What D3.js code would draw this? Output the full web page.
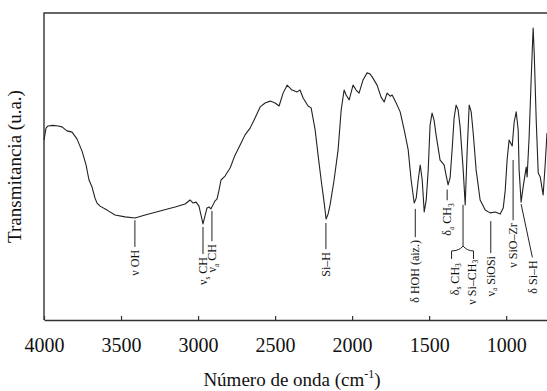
<!DOCTYPE html>
<html>
<head>
<meta charset="utf-8">
<script src="https://cdn.jsdelivr.net/npm/d3@7"></script>
<style>
  body { margin: 0; background: #fff; }
  svg { display: block; font-family: "Liberation Serif", "Times New Roman", serif; }
</style>
</head>
<body>
<div id="chart"></div>
<script>
// spectrum, wavenumber (cm-1) and transmittance (u.a.)
const wavenumber = [4000, 3987, 3974, 3942, 3909, 3883, 3851, 3818, 3786, 3753, 3727, 3708, 3688, 3669, 3656, 3636,
  3591, 3539, 3474, 3409, 3344, 3247, 3149, 3084, 3052, 3032, 3013, 2994, 2981, 2968, 2955, 2942, 2929, 2916, 2903,
  2890, 2877, 2864, 2851, 2825, 2792, 2760, 2727, 2695, 2662, 2630, 2597, 2565, 2532, 2500, 2474, 2448, 2422, 2390,
  2357, 2338, 2318, 2286, 2266, 2240, 2221, 2201, 2182, 2169, 2156, 2143, 2117, 2091, 2071, 2052, 2039, 2019, 1994,
  1974, 1955, 1929, 1903, 1883, 1870, 1838, 1812, 1792, 1773, 1753, 1740, 1714, 1688, 1662, 1636, 1617, 1597, 1584,
  1571, 1558, 1545, 1532, 1519, 1506, 1494, 1481, 1468, 1455, 1429, 1403, 1390, 1377, 1364, 1351, 1338, 1325, 1312,
  1299, 1279, 1266, 1253, 1240, 1227, 1214, 1195, 1169, 1136, 1104, 1071, 1039, 1019, 1006, 994, 981, 961, 948, 935,
  922, 916, 903, 890, 870, 864, 851, 838, 825, 818, 805, 792, 779, 760, 747, 735];
const transmittance = [58.6, 62.5, 63.2, 63.4, 63.2, 62.9, 61.6, 61.2, 59.0, 55.0, 50.5, 45.6, 43.3, 39.7, 38.1, 37.1,
  35.8, 34.2, 33.6, 33.2, 34.2, 35.5, 36.8, 37.8, 39.1, 38.1, 38.4, 37.1, 34.2, 31.3, 33.9, 36.5, 36.8, 36.2, 37.5,
  38.8, 39.4, 42.3, 45.6, 46.9, 49.5, 53.7, 57.0, 60.3, 62.5, 65.8, 69.4, 70.7, 71.3, 70.7, 69.7, 73.9, 76.5, 74.9,
  74.3, 74.9, 72.3, 69.7, 69.1, 61.9, 53.7, 45.6, 38.4, 32.9, 34.5, 37.5, 45.6, 55.4, 68.4, 74.9, 73.3, 71.7, 76.5,
  74.9, 73.9, 78.2, 80.5, 80.1, 79.2, 76.5, 72.6, 71.0, 73.9, 72.9, 73.3, 70.7, 67.8, 61.9, 55.4, 45.6, 38.1, 39.7,
  45.6, 50.5, 45.6, 35.2, 39.1, 48.9, 63.5, 67.4, 65.1, 60.3, 52.1, 50.5, 47.2, 44.0, 46.3, 55.4, 65.8, 70.0, 68.4,
  62.9, 48.9, 37.5, 55.4, 70.0, 67.8, 60.9, 48.9, 39.1, 35.8, 34.9, 35.2, 34.5, 36.5, 42.3, 52.1, 58.6, 56.7, 64.5, 67.8,
  61.9, 48.9, 38.4, 43.3, 49.8, 46.6, 59.6, 78.2, 95.1, 87.0, 65.1, 47.9, 46.6, 40.7, 50.5, 60.9];

const xTicks = [4000, 3500, 3000, 2500, 2000, 1500, 1000];

// band assignments: label, wavenumber of the marker, T where marker starts, T where it ends
const bandLabels = ["ν OH", "ν_s CH", "ν_a CH", "Si–H", "δ HOH (aiz.)", "δ_a CH_3", "ν_a SiOSi", "ν SiO–Zr"];
const bandWn = [3410, 2968, 2910, 2170, 1590, 1383, 1100, 955];
const bandTop = [32.5, 30.3, 35.5, 31.6, 36.2, 42.5, 32.2, 52.1];
const bandBot = [23.8, 21.5, 25.7, 23.1, 27.0, 39.0, 21.8, 32.5];

// bracketed pair (δs CH3 / ν Si–CH3) and the δ Si–H leader
const pairLabels = ["δ_s CH_3", "ν Si–CH_3"];
const pairWn = [1335, 1225];
const pairJoinWn = 1280;
const siHLabel = "δ Si–H";
const siHWn = [903, 830];
const siHT = [38.4, 20.4];

const width = 547, height = 391;
const margin = {top: 13, right: 0, bottom: 71, left: 44};

const x = d3.scaleLinear()
    .domain([4000, 735])
    .range([margin.left, width - margin.right]);
const y = d3.scaleLinear()
    .domain([0, 100])
    .range([height - margin.bottom, margin.top]);

const svg = d3.select("#chart").append("svg")
    .attr("width", width)
    .attr("height", height)
    .attr("viewBox", [0, 0, width, height]);

// frame (left + top)
svg.append("path")
    .attr("d", `M${x(4000)},${y(0)}V${y(100)}H${width}`)
    .attr("fill", "none")
    .attr("stroke", "#333")
    .attr("stroke-width", 1.4);

const xAxis = svg.append("g")
    .attr("transform", `translate(0,${y(0)})`)
    .call(d3.axisBottom(x)
      .tickValues(xTicks)
      .tickFormat(d3.format("d"))
      .tickSizeInner(-4)
      .tickSizeOuter(0)
      .tickPadding(18));
xAxis.select(".domain").attr("stroke", "#333").attr("stroke-width", 1.4);
xAxis.selectAll(".tick line").attr("stroke", "#333").attr("stroke-width", 1.2);
xAxis.selectAll(".tick text")
    .attr("font-size", 20)
    .attr("font-family", "Liberation Serif")
    .attr("fill", "#111");

// axis titles
const xTitle = svg.append("text")
    .attr("x", 292)
    .attr("y", 386)
    .attr("text-anchor", "middle")
    .attr("font-size", 19)
    .attr("fill", "#111");
xTitle.append("tspan").text("Número de onda (cm");
xTitle.append("tspan").attr("dy", -8).attr("font-size", 12).text("-1");
xTitle.append("tspan").attr("dy", 8).text(")");

svg.append("text")
    .attr("transform", `translate(21,${(y(0) + y(100)) / 2}) rotate(-90)`)
    .attr("text-anchor", "middle")
    .attr("font-size", 19)
    .attr("fill", "#111")
    .text("Transmitancia (u.a.)");

// spectrum
const line = d3.line()
    .x((d, i) => x(wavenumber[i]))
    .y(d => y(d));

svg.append("path")
    .datum(transmittance)
    .attr("fill", "none")
    .attr("stroke", "#222")
    .attr("stroke-width", 1.1)
    .attr("stroke-linejoin", "round")
    .attr("d", line);

// rotated label with "_x" subscripts
function addLabel(label, px, py) {
  const t = svg.append("text")
      .attr("transform", `translate(${px},${py}) rotate(-90)`)
      .attr("text-anchor", "end")
      .attr("dy", "0.35em")
      .attr("font-size", 12)
      .attr("fill", "#111");
  const parts = label.split(/_(\w)/);
  parts.forEach((p, i) => {
    if (i % 2 === 1) {
      t.append("tspan").attr("dy", 2.5).attr("font-size", 7.5).text(p);
    } else if (p) {
      const s = t.append("tspan").text(p);
      if (i > 0) s.attr("dy", -2.5);
    }
  });
}

const ann = svg.append("g")
    .attr("stroke", "#222")
    .attr("stroke-width", 1);

bandLabels.forEach((label, i) => {
  ann.append("line")
      .attr("x1", x(bandWn[i])).attr("x2", x(bandWn[i]))
      .attr("y1", y(bandTop[i])).attr("y2", y(bandBot[i]));
  addLabel(label, x(bandWn[i]), y(bandBot[i]) + 3);
});

// bracket
const bracketT = 22.5;
ann.append("path")
    .attr("fill", "none")
    .attr("d", `M${x(pairJoinWn)},${y(37.5)}V${y(24.1)}` +
      `M${x(pairWn[0]) - 3},${y(19.9)}V${y(22.5)}` +
      `Q${x(pairJoinWn) - 4},${y(bracketT)} ${x(pairJoinWn)},${y(24.1)}` +
      `Q${x(pairJoinWn) + 4},${y(bracketT)} ${x(pairWn[1]) + 2},${y(22.5)}V${y(19.9)}`);
addLabel(pairLabels[0], x(pairWn[0]), y(18.5));
addLabel(pairLabels[1], x(pairWn[1]), y(19.6));

// δ Si–H leader
ann.append("line")
    .attr("x1", x(siHWn[0])).attr("y1", y(siHT[0]) + 2)
    .attr("x2", x(siHWn[1])).attr("y2", y(siHT[1]));
addLabel(siHLabel, x(siHWn[1]), y(siHT[1]) + 3);
</script>
</body>
</html>
